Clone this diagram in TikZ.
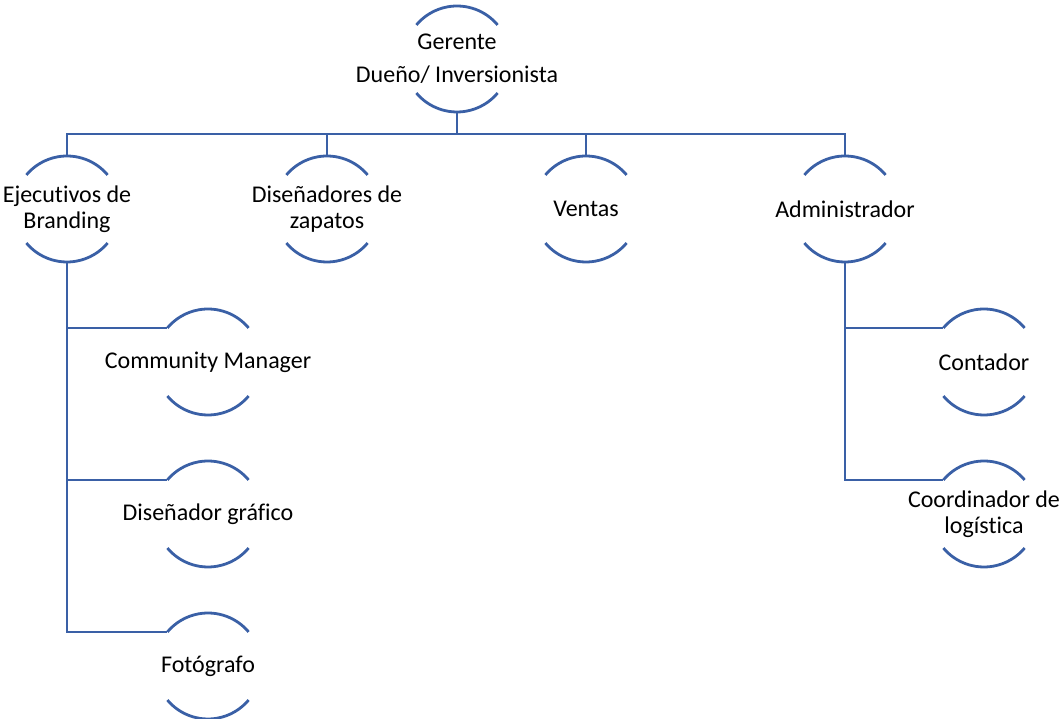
\documentclass[tikz,border=0pt]{standalone}
\usepackage{fontspec}
\setmainfont{Carlito}[Ligatures=NoCommon]
\usetikzlibrary{calc,positioning}
\definecolor{orgblue}{RGB}{58,96,166}

\begin{document}
\begin{tikzpicture}[x=1pt,y=1pt,
  lbl/.style={align=center,font=\fontsize{24}{26}\selectfont,inner sep=0pt},
  half/.style={orgblue,line width=2.8pt},
  link/.style={orgblue,line width=2.8pt}]
\useasboundingbox (0,0) rectangle (1062,719);

% top
\node[lbl] (ger) at (457,660) {Gerente\\[7pt] Dueño/ Inversionista};
% first level
\node[lbl] (eje) at (67,510) {Ejecutivos de\\Branding};
\node[lbl] (dis) at (327,510) {Diseñadores de\\zapatos};
\node[lbl] (ven) at (586,510) {Ventas};
\node[lbl] (adm) at (845,510) {Administrador};
% second level
\node[lbl] (com) at (208,357) {Community Manager};
\node[lbl] (gra) at (208,205) {Diseñador gráfico};
\node[lbl] (fot) at (208,53) {Fotógrafo};
\node[lbl] (con) at (984,357) {Contador};
\node[lbl] (coo) at (984,205) {Coordinador de\\logística};

% the two arcs of every circle
\foreach \n in {ger,eje,dis,ven,adm,com,gra,fot,con,coo}{
  \draw[half] ($(\n.center)+(40:53pt)$) arc[start angle=40,end angle=140,radius=53pt];
  \draw[half] ($(\n.center)+(220:53pt)$) arc[start angle=220,end angle=320,radius=53pt];
}

% connectors
\coordinate (bar) at ($(ger.center)+(0,-75pt)$);
\draw[link] ($(ger.center)+(0,-53pt)$) -- (bar);
\foreach \n in {eje,dis,ven,adm}
  \draw[link] (bar) -| ($(\n.center)+(0,53pt)$);
\foreach \n in {com,gra,fot}
  \draw[link] ($(eje.center)+(0,-53pt)$) |- ($(\n.center)+(140:53pt)$);
\foreach \n in {con,coo}
  \draw[link] ($(adm.center)+(0,-53pt)$) |- ($(\n.center)+(140:53pt)$);
\end{tikzpicture}
\end{document}
